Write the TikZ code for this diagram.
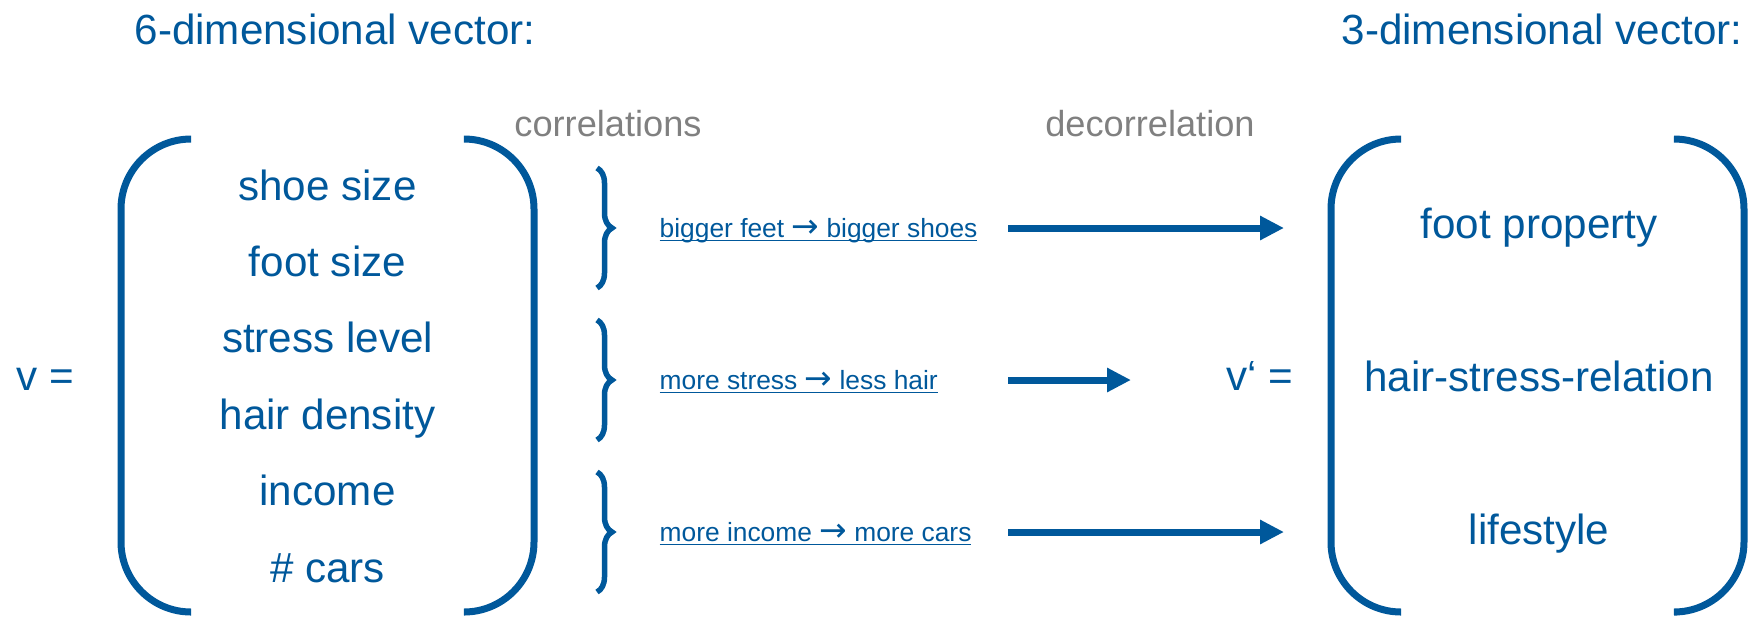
\documentclass[tikz,border=0pt]{standalone}
\usepackage{fontspec}
\setmainfont{Liberation Sans}
\newfontfamily\arrowfont{DejaVu Sans}
\usetikzlibrary{arrows.meta, decorations.pathreplacing}

\definecolor{vblue}{RGB}{0,88,155}
\definecolor{cgrey}{RGB}{128,128,128}

\newsavebox{\ulbox}
\newcommand{\ulink}[1]{\sbox{\ulbox}{#1}\rlap{\rule[-1.25pt]{\wd\ulbox}{0.5pt}}\usebox{\ulbox}}
\newcommand{\ra}{\scalebox{1.25}{\arrowfont\char"2192}}

\begin{document}
\begin{tikzpicture}[
    entry/.style={text=vblue, font=\fontsize{12}{14}\selectfont, anchor=base, inner sep=0pt},
    note/.style={text=cgrey, font=\fontsize{10.3}{12}\selectfont, anchor=base, inner sep=0pt},
    rel/.style={text=vblue, font=\fontsize{7.5}{9}\selectfont, anchor=base west, inner sep=0pt},
    paren/.style={draw=vblue, line width=0.07cm, rounded corners=0.7cm},
    brc/.style={draw=vblue, line width=0.055cm, decorate, decoration={brace, amplitude=0.15cm}},
    flow/.style={draw=vblue, line width=0.07cm, -{Triangle[length=0.24cm, width=0.23cm]}}
]

\useasboundingbox (0,0) rectangle (17.51,-6.17);

% -------- X positions --------
\def\xin{3.275}    % centre of 6-dim vector
\def\xout{15.39}   % centre of 3-dim vector
\def\xbrace{5.97}
\def\xrel{6.59}
\def\xarr{10.08}

% -------- Y levels --------
\def\ytitle{-0.44}
\def\ynote{-1.36}
\def\ytop{-1.39}
\def\ybot{-6.12}

% -------- Titles --------
\node[entry] (t6) at (3.35,\ytitle) {6-dimensional vector:};
\node[entry] (t3) at (15.42,\ytitle) {3-dimensional vector:};

\node[note] (corr) at (6.08,\ynote) {correlations};
\node[note] (decorr) at (11.50,\ynote) {decorrelation};

% -------- 6-dim vector --------
\node[entry] (v) at (0.45,-3.90) {v =};
\foreach \t [count=\i] in {shoe size, foot size, stress level, hair density, income, \# cars} {
    \node[entry] (in\i) at (\xin,{-2.00-0.764*(\i-1)}) {\t};
}
\draw[paren] (1.90,\ytop) -- (1.21,\ytop) -- (1.21,\ybot) -- (1.90,\ybot);
\draw[paren] (4.65,\ytop) -- (5.34,\ytop) -- (5.34,\ybot) -- (4.65,\ybot);

% -------- 3-dim vector --------
\node[entry] (vp) at (12.60,-3.90) {v‘ =};
\foreach \t/\y [count=\i] in {foot property/-2.38, hair-stress-relation/-3.91, lifestyle/-5.44} {
    \node[entry] (out\i) at (\xout,\y) {\t};
}
\draw[paren] (14.00,\ytop) -- (13.31,\ytop) -- (13.31,\ybot) -- (14.00,\ybot);
\draw[paren] (16.77,\ytop) -- (17.44,\ytop) -- (17.44,\ybot) -- (16.77,\ybot);

% -------- Correlations -> decorrelation --------
\foreach \y/\xend/\txt [count=\i] in {-2.28/12.84/{bigger feet \ra{} bigger shoes},
                                       -3.80/11.31/{more stress \ra{} less hair},
                                       -5.32/12.84/{more income \ra{} more cars}} {
    \draw[brc] (\xbrace,{\y+0.60}) -- (\xbrace,{\y-0.60});
    \node[rel] (rel\i) at (\xrel,{\y-0.09}) {\ulink{\txt}};
    \coordinate (s\i) at (\xarr,\y);
    \coordinate (e\i) at (\xend,\y);
    \draw[flow] (s\i) -- (e\i);
}

\end{tikzpicture}
\end{document}
